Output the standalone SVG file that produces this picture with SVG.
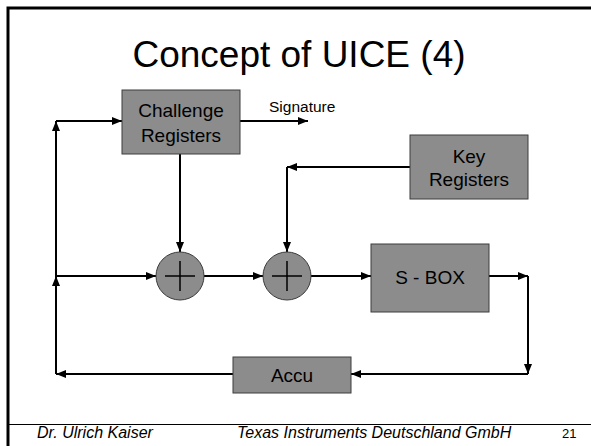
<svg xmlns="http://www.w3.org/2000/svg" width="591" height="446" viewBox="0 0 591 446">
<defs>
<style>
.box{fill:#8c8c8c;stroke:#3c3c3c;stroke-width:1}
.lbl{font-family:"Liberation Sans",Arial,sans-serif;font-size:19px;fill:#000;text-anchor:middle}
.w{fill:none;stroke:#000;stroke-width:2}
.ft{font-family:"Liberation Sans",Arial,sans-serif;font-size:16px;font-style:italic;fill:#000}
</style>
<marker id="ah" viewBox="0 0 10 8" refX="10" refY="4" markerWidth="5" markerHeight="4" orient="auto" markerUnits="strokeWidth">
<path d="M0,0 L10,4 L0,8 z" fill="#000"/>
</marker>
</defs>
<rect width="591" height="446" fill="#fff"/>
<path d="M8,446 V8 H591" fill="none" stroke="#000" stroke-width="3"/>
<line x1="8" y1="424.5" x2="591" y2="424.5" stroke="#000" stroke-width="1"/>
<text x="299" y="67" font-family="Liberation Sans, Arial, sans-serif" font-size="37" text-anchor="middle">Concept of UICE (4)</text>
<g id="connectors">
<path class="w" d="M56,276 V121" marker-end="url(#ah)"/>
<path class="w" d="M56,121 H122" marker-end="url(#ah)"/>
<path class="w" d="M240,121 H308" marker-end="url(#ah)"/>
<path class="w" d="M180,154 V252" marker-end="url(#ah)"/>
<path class="w" d="M410,167 H287" marker-end="url(#ah)"/>
<path class="w" d="M287,167 V252" marker-end="url(#ah)"/>
<path class="w" d="M56,276 H156" marker-end="url(#ah)"/>
<path class="w" d="M204,276 H263" marker-end="url(#ah)"/>
<path class="w" d="M311,276 H371" marker-end="url(#ah)"/>
<path class="w" d="M489,276 H528" marker-end="url(#ah)"/>
<path class="w" d="M528,276 V374" marker-end="url(#ah)"/>
<path class="w" d="M528,374 H351" marker-end="url(#ah)"/>
<path class="w" d="M233,374 H56" marker-end="url(#ah)"/>
<path class="w" d="M56,374 V276" marker-end="url(#ah)"/>
</g>
<g id="challenge">
<rect class="box" x="122" y="90" width="118" height="64"/>
<text class="lbl" x="181" y="117">Challenge</text>
<text class="lbl" x="181" y="142">Registers</text>
</g>
<text id="signature" x="269" y="112" font-family="Liberation Sans, Arial, sans-serif" font-size="15.5">Signature</text>
<g id="key">
<rect class="box" x="410" y="135" width="118" height="64"/>
<text class="lbl" x="469" y="163">Key</text>
<text class="lbl" x="469" y="186">Registers</text>
</g>
<g id="xor1">
<circle class="box" cx="180" cy="276" r="24"/>
<path d="M165,276 H195 M180,261 V291" stroke="#000" stroke-width="1.5"/>
</g>
<g id="xor2">
<circle class="box" cx="287" cy="276" r="24"/>
<path d="M272,276 H302 M287,261 V291" stroke="#000" stroke-width="1.5"/>
</g>
<g id="sbox">
<rect class="box" x="371" y="244" width="118" height="68"/>
<text class="lbl" x="430" y="284">S - BOX</text>
</g>
<g id="accu">
<rect class="box" x="233" y="357" width="118" height="36"/>
<text class="lbl" x="292" y="382">Accu</text>
</g>
<text class="ft" x="37" y="438">Dr. Ulrich Kaiser</text>
<text class="ft" x="237" y="438">Texas Instruments Deutschland GmbH</text>
<text x="562" y="438" font-family="Liberation Sans, Arial, sans-serif" font-size="13">21</text>
</svg>
